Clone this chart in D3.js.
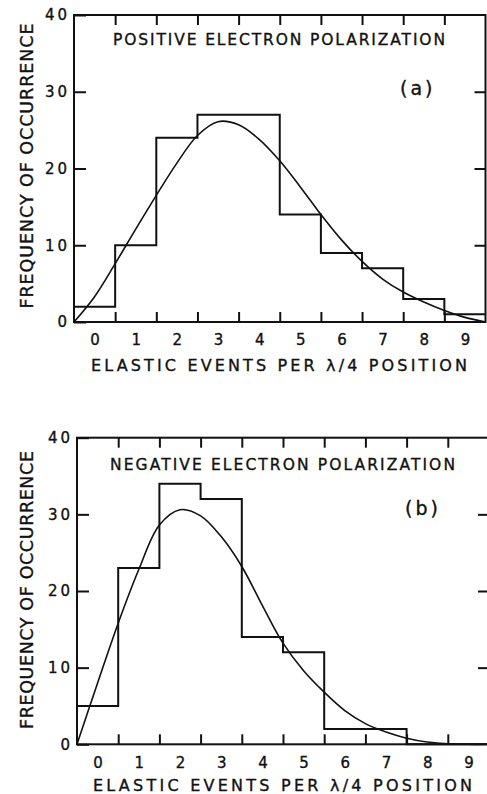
<!DOCTYPE html>
<html>
<head>
<meta charset="utf-8">
<script src="https://cdn.jsdelivr.net/npm/d3@7"></script>
<style>
  body { margin: 0; background: #fff; }
  text { font-family: "DejaVu Sans", sans-serif; fill: #111; stroke: #111; stroke-width: 0.35; }
</style>
</head>
<body>
<svg id="chart" width="487" height="794"></svg>
<script>
// histogram bins (elastic events per lambda/4 position)
const bins = [0, 1, 2, 3, 4, 5, 6, 7, 8, 9];
const countsPos = [2, 10, 24, 27, 27, 14, 9, 7, 3, 1];
const countsNeg = [5, 23, 34, 32, 14, 12, 2, 2, 0, 0];

// fitted curves
const fitX   = [-0.5, 0, 0.5, 1, 1.5, 2, 2.5, 3, 3.5, 4, 4.5, 5, 5.5, 6, 6.5, 7, 7.5, 8, 8.5, 9, 9.5];
const fitPos = [0, 3.3, 7.6, 12.1, 16.5, 20.7, 24.3, 26.1, 25.7, 23.8, 21.0, 17.6, 14.0, 10.7, 7.9, 5.6, 3.9, 2.6, 1.5, 0.6, 0];
const fitNeg = [0, 8.0, 15.8, 22.8, 28.6, 30.6, 29.8, 27.1, 23.2, 18.1, 13.2, 9.6, 6.8, 4.4, 2.7, 1.6, 0.8, 0.3, 0.05, 0, 0];

const yTicks = [0, 10, 20, 30, 40];
const edgeTicks = [0.5, 1.5, 2.5, 3.5, 4.5, 5.5, 6.5, 7.5, 8.5];
const titles = ["POSITIVE ELECTRON POLARIZATION", "NEGATIVE ELECTRON POLARIZATION"];
const tags = ["(a)", "(b)"];
const xTitle = "ELASTIC EVENTS PER \u03bb/4 POSITION";
const yTitle = "FREQUENCY OF OCCURRENCE";

const svg = d3.select("#chart");

const panels = [
  { left: 74, right: 485.5, top: 15, bottom: 322, counts: countsPos, fit: fitPos,
    title: titles[0], titleX: 113, titleY: 45, titleW: 332,
    tag: tags[0], tagX: 400, tagY: 95,
    tickPad: 12, xLabY: 371, xLabX: 91, xLabW: 376, yLabC: 166, yLabW: 285 },
  { left: 77, right: 489, top: 437.7, bottom: 744.3, counts: countsNeg, fit: fitNeg,
    title: titles[1], titleX: 110, titleY: 470, titleW: 345,
    tag: tags[1], tagX: 405, tagY: 515,
    tickPad: 13, xLabY: 791, xLabX: 93, xLabW: 379, yLabC: 590, yLabW: 278 }
];

function drawPanel(p) {
  const x = d3.scaleLinear().domain([-0.5, 9.5]).range([p.left, p.right]);
  const y = d3.scaleLinear().domain([0, 40]).range([p.bottom, p.top]);
  const g = svg.append("g");

  const tidy = sel => {
    sel.select(".domain").remove();
    sel.selectAll("line").attr("stroke", "#111").attr("stroke-width", 2);
    sel.selectAll("text").attr("font-family", "DejaVu Sans").attr("font-size", 15)
      .attr("fill", "#111").attr("letter-spacing", 3);
  };

  // y axis, ticks inside the frame
  g.append("g").attr("transform", `translate(${p.left},0)`)
    .call(d3.axisLeft(y).tickValues(yTicks).tickSizeInner(-12).tickSizeOuter(0).tickPadding(4))
    .call(tidy);
  g.append("g").attr("transform", `translate(${p.right},0)`)
    .call(d3.axisRight(y).tickValues([10, 20, 30]).tickSizeInner(-11).tickSizeOuter(0).tickFormat(""))
    .call(tidy);

  // bin edge ticks top and bottom
  g.append("g").attr("transform", `translate(0,${p.top})`)
    .call(d3.axisTop(x).tickValues(edgeTicks).tickSizeInner(-10).tickSizeOuter(0).tickFormat(""))
    .call(tidy);
  g.append("g").attr("transform", `translate(0,${p.bottom})`)
    .call(d3.axisBottom(x).tickValues(edgeTicks).tickSizeInner(-10).tickSizeOuter(0).tickFormat(""))
    .call(tidy);
  g.append("g").attr("transform", `translate(0,${p.bottom})`)
    .call(d3.axisBottom(x).tickValues(bins).tickSize(0).tickPadding(p.tickPad))
    .call(tidy)
    .call(s => s.selectAll("text").attr("letter-spacing", 0));

  // frame
  g.append("rect")
    .attr("x", p.left).attr("y", p.top)
    .attr("width", p.right - p.left).attr("height", p.bottom - p.top)
    .attr("fill", "none").attr("stroke", "#111").attr("stroke-width", 2);

  // histogram as steps
  const steps = bins.map((b, i) => [b - 0.5, p.counts[i]]);
  steps.push([9.5, p.counts[p.counts.length - 1]]);
  g.append("path")
    .datum(steps)
    .attr("fill", "none").attr("stroke", "#111").attr("stroke-width", 2)
    .attr("d", d3.line().curve(d3.curveStepAfter).x(d => x(d[0])).y(d => y(d[1])));

  // fitted curve
  g.append("path")
    .datum(fitX.map((v, i) => [v, p.fit[i]]))
    .attr("fill", "none").attr("stroke", "#111").attr("stroke-width", 1.6)
    .attr("d", d3.line().curve(d3.curveCatmullRom).x(d => x(d[0])).y(d => y(Math.max(0, d[1]))));

  // labels
  g.append("text").attr("x", p.titleX).attr("y", p.titleY)
    .attr("font-size", 15.5).attr("textLength", p.titleW).attr("lengthAdjust", "spacing")
    .text(p.title);
  g.append("text").attr("x", p.tagX).attr("y", p.tagY)
    .attr("font-size", 19).attr("letter-spacing", 3)
    .text(p.tag);
  g.append("text").attr("x", p.xLabX).attr("y", p.xLabY)
    .attr("font-size", 16).attr("textLength", p.xLabW).attr("lengthAdjust", "spacing")
    .text(xTitle);
  g.append("text")
    .attr("transform", `translate(33,${p.yLabC}) rotate(-90)`)
    .attr("text-anchor", "middle")
    .attr("font-size", 17.5).attr("textLength", p.yLabW).attr("lengthAdjust", "spacing")
    .text(yTitle);
}

panels.forEach(drawPanel);
</script>
</body>
</html>
